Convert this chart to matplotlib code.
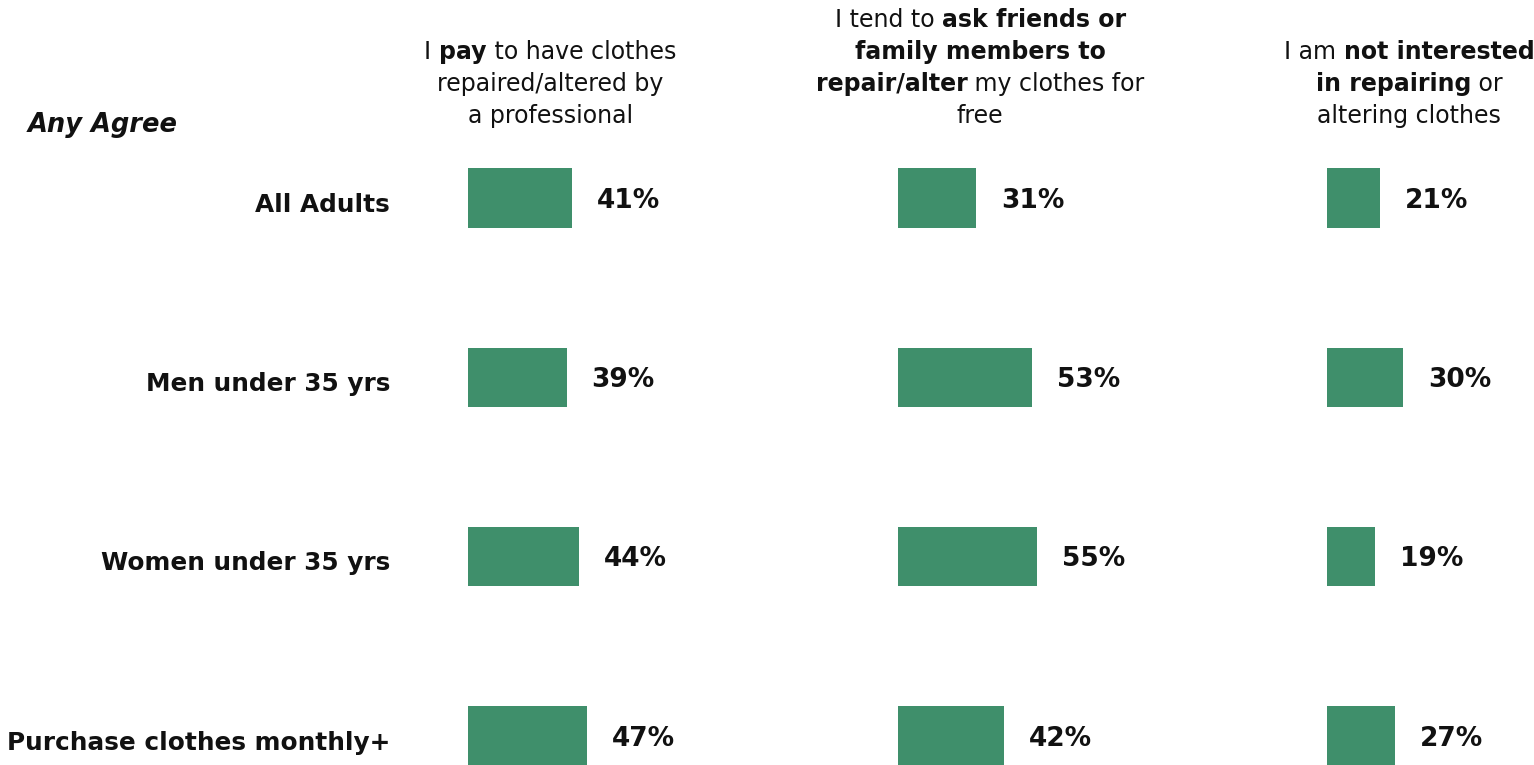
import matplotlib
matplotlib.use("Agg")
import matplotlib.pyplot as plt
from matplotlib import transforms

groups = ["All Adults", "Men under 35 yrs", "Women under 35 yrs",
          "Purchase clothes monthly+"]
pay_professional = [41, 39, 44, 47]
ask_friends_family = [31, 53, 55, 42]
not_interested = [21, 30, 19, 27]

# column headers, one list of (text, bold) runs per line
header_pay = [
    [("I ", False), ("pay", True), (" to have clothes", False)],
    [("repaired/altered by", False)],
    [("a professional", False)],
]
header_friends = [
    [("I tend to ", False), ("ask friends or", True)],
    [("family members to", True)],
    [("repair/alter", True), (" my clothes for", False)],
    [("free", False)],
]
header_not_interested = [
    [("I am ", False), ("not interested", True)],
    [("in repairing", True), (" or", False)],
    [("altering clothes", False)],
]

BAR_COLOR = "#3f8f6b"
TEXT_COLOR = "#111111"
W, H, DPI = 1534, 765, 100

plt.rcParams["font.family"] = "DejaVu Sans"

fig = plt.figure(figsize=(W / DPI, H / DPI), dpi=DPI)
fig.patch.set_facecolor("white")

panel_left = [468, 898, 1327]
px_per_pct = 2.53
xmax = 80
ax_top, ax_bottom = 108.4, 825.7


def draw_rich_line(ax, x, y_px, runs, size):
    renderer = fig.canvas.get_renderer()
    base = transforms.blended_transform_factory(ax.transData, fig.transFigure)
    y = 1 - y_px / H
    texts, widths = [], []
    for s, bold in runs:
        t = ax.text(x, y, s, transform=base, fontsize=size,
                    fontweight="bold" if bold else "normal",
                    color=TEXT_COLOR, ha="left", va="baseline")
        texts.append(t)
        widths.append(t.get_window_extent(renderer).width)
    dx = -sum(widths) / 2
    for t, w in zip(texts, widths):
        t.set_transform(transforms.offset_copy(base, fig=fig, x=dx, y=0,
                                               units="dots"))
        dx += w


panels = [
    (pay_professional, header_pay),
    (ask_friends_family, header_friends),
    (not_interested, header_not_interested),
]

axes = []
for left, (values, header) in zip(panel_left, panels):
    ax = fig.add_axes([left / W, (H - ax_bottom) / H,
                       xmax * px_per_pct / W, (ax_bottom - ax_top) / H])
    ax.set_xlim(0, xmax)
    ax.set_ylim(len(groups) - 0.5, -0.5)
    ax.barh(range(len(values)), values, height=0.33, color=BAR_COLOR)
    for i, v in enumerate(values):
        ax.annotate(f"{v}%", (v, i), xytext=(18, -2), textcoords="offset points",
                    ha="left", va="center", fontsize=19, fontweight="bold",
                    color=TEXT_COLOR)
    ax.set_xticks([])
    ax.set_yticks([])
    for sp in ax.spines.values():
        sp.set_visible(False)
    ax.patch.set_alpha(0)

    # header lines sit above the bars, bottom line aligned across panels
    n = len(header)
    for k, runs in enumerate(header):
        draw_rich_line(ax, 32.5, 123 - 32 * (n - 1 - k), runs, 17)
    axes.append(ax)

axes[0].set_yticks(range(len(groups)), groups)
axes[0].tick_params(axis="y", length=0, pad=56)
for lab in axes[0].get_yticklabels():
    lab.set_fontsize(17.8)
    lab.set_fontweight("bold")
    lab.set_color(TEXT_COLOR)
    lab.set_transform(lab.get_transform()
                      + transforms.Affine2D().translate(0, -4))

fig.text(28 / W, 1 - 132 / H, "Any Agree", fontsize=18.5, fontweight="bold",
         fontstyle="italic", color=TEXT_COLOR, ha="left", va="baseline")

fig.savefig("out.png", dpi=DPI)
